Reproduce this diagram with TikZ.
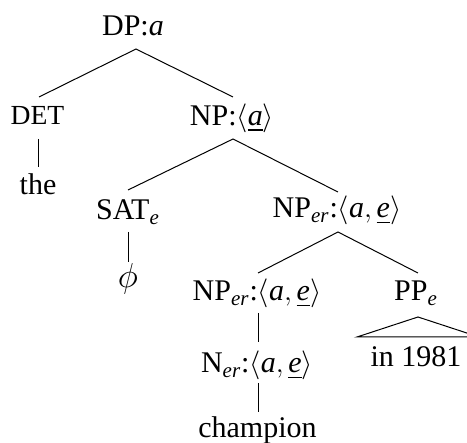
\documentclass[tikz,border=0pt]{standalone}
\usepackage{amsmath}
\usepackage{fontspec}
\setmainfont{Liberation Serif}
\newcommand{\ang}[1]{$\langle$#1$\rangle$}
\newcommand{\ul}[1]{\underline{#1}}
\newsavebox{\ulbox}
\newcommand{\ulthick}[1]{\sbox{\ulbox}{#1}\rlap{\rule[-2.6pt]{\wd\ulbox}{1.1pt}}\usebox{\ulbox}}
\begin{document}
\begin{tikzpicture}[x=0.5pt,y=-0.5pt,
  lbl/.style={anchor=base,inner sep=0pt,font=\fontsize{15}{18}\selectfont},
  edge/.style={draw=black,line width=0.5pt}]
\useasboundingbox (0,0) rectangle (467,443);
\clip (0,0) rectangle (467,443);
% nodes
\node[lbl] (DP) at (133,35.5) {DP:\textit{a}};
\node[lbl,font=\fontsize{13.8}{17}\selectfont] (DET) at (37.5,125) {DET};
\node[lbl] (NP) at (232,126) {NP:\ang{\ulthick{\textit{a}}}};
\node[lbl] (the) at (38,195) {the};
\node[lbl] (SAT) at (128,220) {SAT$_{\textit{e}}$};
\node[lbl] (NPer) at (337,218) {NP$_{\textit{er}}$:\ang{\textit{a}$,\,$\ul{\textit{e}}}};
\node[lbl,font=\fontsize{18}{20}\selectfont] (phi) at (128,288) {$\phi$};
\node[lbl] (NPer2) at (257,301) {NP$_{\textit{er}}$:\ang{\textit{a}$,\,$\ul{\textit{e}}}};
\node[lbl] (PP) at (416,301) {PP$_{\textit{e}}$};
\node[lbl] (in) at (416,367) {in 1981};
\node[lbl] (Ner) at (257,373) {N$_{\textit{er}}$:\ang{\textit{a}$,\,$\ul{\textit{e}}}};
\node[lbl] (champ) at (257.5,438) {champion};
% edge end points
\coordinate (DPd) at (136,49);
\coordinate (DETu) at (39,97);
\coordinate (NPu) at (233,97);
\coordinate (DETd) at (38,139);
\coordinate (theu) at (38,167);
\coordinate (NPd) at (233,139);
\coordinate (SATu) at (128,190);
\coordinate (NPeru) at (338,192);
\coordinate (SATd) at (128,232);
\coordinate (phiu) at (128,262);
\coordinate (NPerd) at (338,232);
\coordinate (NPer2u) at (258,273);
\coordinate (PPu) at (418,273);
\coordinate (NPer2d) at (258,313);
\coordinate (Neru) at (258,342);
\coordinate (Nerd) at (258,383);
\coordinate (champu) at (258,412);
\coordinate (PPd) at (418,317);
\coordinate (triL) at (357,337);
\coordinate (triR) at (479,337);
% edges
\draw[edge] (DETu) -- (DPd) -- (NPu);
\draw[edge] (DETd) -- (theu);
\draw[edge] (SATu) -- (NPd) -- (NPeru);
\draw[edge] (SATd) -- (phiu);
\draw[edge] (NPer2u) -- (NPerd) -- (PPu);
\draw[edge] (NPer2d) -- (Neru);
\draw[edge] (Nerd) -- (champu);
\draw[edge] (PPd) -- (triL) -- (triR) -- cycle;
\end{tikzpicture}
\end{document}
